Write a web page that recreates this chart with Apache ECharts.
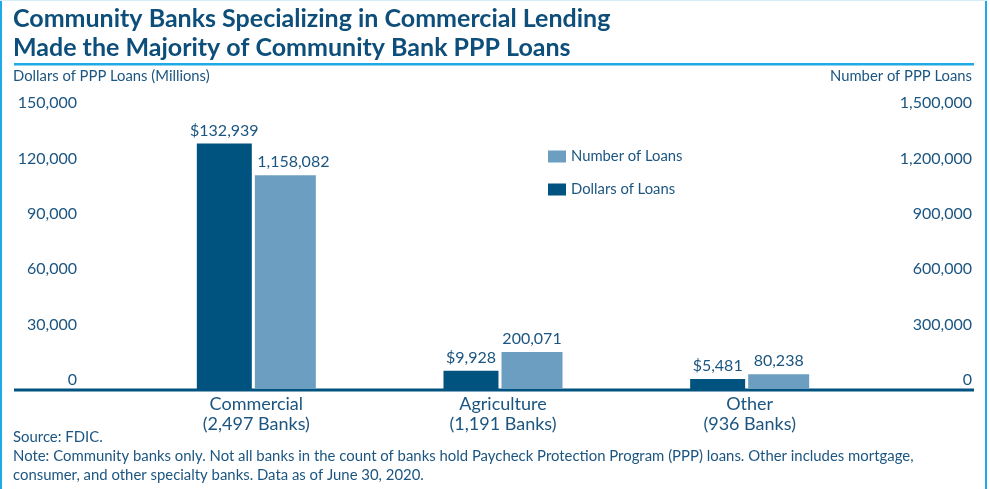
<!DOCTYPE html>
<html>
<head>
<meta charset="utf-8">
<script src="https://cdn.jsdelivr.net/npm/echarts@6/dist/echarts.min.js"></script>
<style>
html,body{margin:0;padding:0;background:#fff;}
#chart{width:990px;height:489px;}
</style>
</head>
<body>
<div id="chart"></div>
<script>
var categories = ['Commercial\n(2,497 Banks)', 'Agriculture\n(1,191 Banks)', 'Other\n(936 Banks)'];
var dollarsOfLoans = [132939, 9928, 5481];
var numberOfLoans = [1158082, 200071, 80238];
var leftTicks = {min: 0, max: 150000, interval: 30000};
var rightTicks = {min: 0, max: 1500000, interval: 300000};
var titleLines = ['Community Banks Specializing in Commercial Lending', 'Made the Majority of Community Bank PPP Loans'];
var leftAxisName = 'Dollars of PPP Loans (Millions)';
var rightAxisName = 'Number of PPP Loans';
var footerLines = ['Source: FDIC.', 'Note: Community banks only. Not all banks in the count of banks hold Paycheck Protection Program (PPP) loans. Other includes mortgage,', 'consumer, and other specialty banks. Data as of June 30, 2020.'];

var FONT = 'Lato';
var TXT = '#1b5580';
var DARK = '#00537f';
var LIGHT = '#6c9ec1';
var ACCENT = '#1eaae4';
function fmt(v){ return v.toLocaleString('en-US'); }

var chart = echarts.init(document.getElementById('chart'), null, {renderer: 'canvas'});
var option = {
  backgroundColor: '#fff',
  animation: false,
  textStyle: {fontFamily: FONT, color: TXT},
  grid: {left: 133, right: 117, top: 112, bottom: 100},
  legend: {
    orient: 'vertical', left: 543, top: 144,
    itemWidth: 18, itemHeight: 12, itemGap: 18,
    icon: 'rect',
    data: ['Number of Loans', 'Dollars of Loans'],
    textStyle: {fontFamily: FONT, fontSize: 14.8, color: TXT}
  },
  xAxis: {
    type: 'category', data: categories,
    axisLine: {show: false}, axisTick: {show: false},
    axisLabel: {fontFamily: FONT, fontSize: 18, color: TXT, lineHeight: 20, margin: 5}
  },
  yAxis: [{
    type: 'value', min: leftTicks.min, max: leftTicks.max, interval: leftTicks.interval,
    splitLine: {show: false}, axisLine: {show: false}, axisTick: {show: false},
    axisLabel: {fontFamily: FONT, fontSize: 16, color: TXT, margin: 56, verticalAlign: 'bottom', lineHeight: 18, formatter: fmt}
  }, {
    type: 'value', min: rightTicks.min, max: rightTicks.max, interval: rightTicks.interval,
    splitLine: {show: false}, axisLine: {show: false}, axisTick: {show: false},
    axisLabel: {fontFamily: FONT, fontSize: 16, color: TXT, margin: 99, align: 'right', verticalAlign: 'bottom', lineHeight: 18, formatter: fmt}
  }],
  series: [{
    name: 'Dollars of Loans', type: 'bar', yAxisIndex: 0,
    data: dollarsOfLoans, barWidth: 55, barGap: '5.5%',
    itemStyle: {color: DARK},
    label: {show: true, position: 'top', distance: 5, fontFamily: FONT, fontSize: 16, color: TXT,
      formatter: function(p){ return '$' + fmt(p.value); }}
  }, {
    name: 'Number of Loans', type: 'bar', yAxisIndex: 1,
    data: numberOfLoans.map(function(v, i){
      return i === 0 ? {value: v, label: {offset: [8, 0]}} : v;
    }),
    barWidth: 61, barGap: '5.5%',
    itemStyle: {color: LIGHT},
    label: {show: true, position: 'top', distance: 5, fontFamily: FONT, fontSize: 16, color: TXT,
      formatter: function(p){ return fmt(p.value); }}
  }],
  graphic: [
    {type: 'rect', shape: {x: 0, y: 0, width: 2, height: 489}, style: {fill: ACCENT}, silent: true},
    {type: 'rect', shape: {x: 985, y: 0, width: 2, height: 489}, style: {fill: ACCENT}, silent: true},
    {type: 'rect', shape: {x: 0, y: 0, width: 987, height: 1}, style: {fill: '#d6eef9'}, silent: true},
    {type: 'rect', shape: {x: 14, y: 63, width: 960, height: 2.5}, style: {fill: ACCENT}, silent: true},
    {type: 'rect', shape: {x: 14, y: 388.5, width: 960, height: 3}, style: {fill: DARK}, silent: true},
    {type: 'text', left: 13, top: 4, style: {text: titleLines.join('\n'), font: 'bold 25px ' + FONT, fill: '#0d4e7a', lineHeight: 29}},
    {type: 'text', left: 13, top: 69, style: {text: leftAxisName, font: '14.8px ' + FONT, fill: TXT}},
    {type: 'text', right: 990 - 972, top: 69, style: {text: rightAxisName, font: '14.8px ' + FONT, fill: TXT, textAlign: 'right'}},
    {type: 'text', left: 13, top: 428, style: {text: footerLines.join('\n'), font: '14.9px ' + FONT, fill: TXT, lineHeight: 19}}
  ]
};
chart.setOption(option);
</script>
</body>
</html>
